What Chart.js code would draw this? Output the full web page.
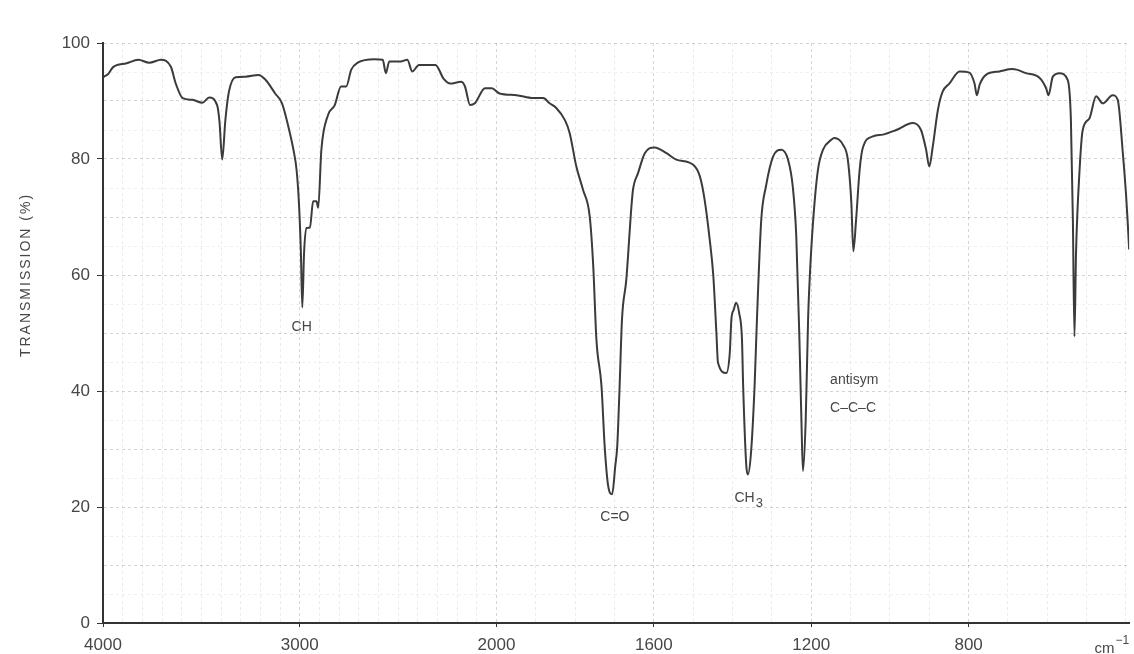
<!DOCTYPE html>
<html>
<head>
<meta charset="utf-8">
<title>IR spectrum</title>
<script src="https://cdn.jsdelivr.net/npm/chart.js@4.4.1/dist/chart.umd.min.js"></script>
<style>
    body { margin: 0; background: #fff; }
    canvas { display: block; }
</style>
</head>
<body>
<canvas id="irChart" width="1134" height="654"></canvas>
<script>
// values (wavenumber in cm-1, transmission in %)
const wavenumbers = [
    4000, 3995, 3975, 3950, 3880, 3820, 3765, 3705, 3655, 3630, 3595, 3545, 3495, 3460, 3420, 3408, 3394, 3378, 3360, 3326,
    3276, 3210, 3175, 3125, 3090, 3058, 3032, 3016, 3004, 2994, 2987, 2978, 2965, 2948, 2932, 2915, 2906, 2890, 2856, 2822,
    2790, 2764, 2738, 2705, 2620, 2578, 2562, 2545, 2487, 2453, 2428, 2394, 2310, 2268, 2235, 2180, 2160, 2134, 2110, 2058,
    2024, 1992, 1949, 1907, 1881, 1865, 1848, 1826, 1814, 1797, 1780, 1763, 1754, 1746, 1733, 1725, 1716, 1706, 1698, 1693,
    1687, 1681, 1670, 1657, 1653, 1640, 1623, 1598, 1568, 1543, 1500, 1483, 1471, 1458, 1449, 1441, 1437, 1416, 1407, 1403,
    1397, 1391, 1383, 1376, 1373, 1365, 1361, 1353, 1344, 1338, 1327, 1315, 1297, 1276, 1259, 1247, 1238, 1230, 1225, 1221,
    1214, 1208, 1204, 1195, 1183, 1170, 1149, 1141, 1119, 1107, 1098, 1093, 1086, 1077, 1069, 1043, 1018, 984, 942, 921,
    908, 900, 891, 878, 866, 849, 823, 798, 785, 779, 772, 756, 722, 688, 654, 620, 603, 597, 586, 569,
    548, 540, 535, 531, 527, 518, 510, 493, 476, 459, 434, 421, 408, 400, 396, 392
]
const transmission = [
    94.0, 94.2, 94.6, 95.8, 96.5, 97.1, 96.6, 97.1, 95.9, 93.0, 90.5, 90.2, 89.7, 90.6, 89.3, 86.5, 79.9, 86.7, 91.6, 94.1,
    94.2, 94.5, 93.7, 91.3, 89.6, 85.6, 81.6, 78.1, 72.4, 63.8, 54.4, 63.8, 68.1, 68.2, 72.7, 72.7, 71.6, 81.6, 87.6, 89.3,
    92.5, 92.5, 95.4, 96.6, 97.2, 97.1, 94.8, 96.8, 96.8, 97.1, 95.1, 96.2, 96.2, 93.8, 93.0, 93.3, 92.5, 89.3, 89.6, 92.2,
    92.2, 91.3, 91.0, 90.5, 90.5, 89.6, 88.8, 86.7, 84.5, 78.7, 74.7, 70.1, 61.5, 48.9, 40.8, 30.5, 23.6, 22.2, 27.1, 30.5,
    40.8, 52.3, 59.2, 71.8, 74.7, 77.6, 81.0, 82.0, 81.0, 79.9, 79.0, 77.0, 73.0, 66.1, 60.0, 50.0, 44.9, 43.1, 46.6, 52.3,
    54.0, 55.2, 53.4, 48.9, 40.8, 27.1, 25.6, 29.4, 40.8, 52.3, 69.5, 75.3, 80.4, 81.6, 79.9, 75.3, 66.7, 48.9, 35.1, 26.2,
    35.1, 52.3, 59.2, 69.5, 78.1, 81.6, 83.3, 83.6, 82.4, 79.9, 72.4, 64.1, 69.5, 78.1, 81.9, 83.9, 84.2, 85.0, 86.2, 85.0,
    81.6, 78.7, 82.2, 88.5, 91.6, 93.0, 95.1, 94.9, 93.0, 91.0, 92.8, 94.5, 95.1, 95.5, 94.8, 94.0, 92.2, 91.0, 94.2, 94.8,
    93.6, 86.7, 69.5, 49.4, 63.8, 78.1, 85.0, 87.0, 90.8, 89.6, 91.0, 90.2, 81.0, 74.0, 69.5, 64.4
]
const xTickLabels = [4000, 3000, 2000, 1600, 1200, 800]
const yTickLabels = [0, 20, 40, 60, 80, 100]
const xGridTicks = []
for (let w = 4000; w >= 400; w -= 100) xGridTicks.push(w)

// band labels, anchored in data units
const peakLabels = [
    { text: "CH", wn: 2990, t: 51.0, align: "center" },
    { text: "C=O", wn: 1699, t: 18.3, align: "center" },
    { text: "CH", sub: "3", wn: 1395, t: 21.6, align: "left" },
    { text: "antisym", wn: 1152, t: 41.9, align: "left" },
    { text: "C\u2013C\u2013C", wn: 1152, t: 37.1, align: "left" }
]

const FONT = '"Liberation Sans", Arial, sans-serif'
const INK = "#474747"

// spectrometer paper: 4000-2000 cm-1 is drawn at half the scale of 2000-400 cm-1
class WaveScale extends Chart.LinearScale {
    toPos(v) {
        return v >= 2000 ? (4000 - v) / 2 : 1000 + (2000 - v)
    }
    getPixelForValue(v) {
        return this.left + this.width * this.toPos(v) / this.toPos(this.min)
    }
    getValueForPixel(px) {
        const p = (px - this.left) / this.width * this.toPos(this.min)
        return p <= 1000 ? 4000 - 2 * p : 2000 - (p - 1000)
    }
}
WaveScale.id = "wavenumber"
WaveScale.defaults = Chart.LinearScale.defaults
Chart.register(WaveScale)

const spectrumText = {
    id: "spectrumText",
    afterDraw(chart) {
        const { ctx, scales: { x, y } } = chart
        ctx.save()
        ctx.fillStyle = INK
        ctx.textBaseline = "middle"
        peakLabels.forEach(l => {
            const px = x.getPixelForValue(l.wn)
            const py = y.getPixelForValue(l.t)
            ctx.font = "14px " + FONT
            ctx.textAlign = l.align
            ctx.fillText(l.text, px, py)
            if (l.sub) {
                const w = ctx.measureText(l.text).width
                ctx.font = "13px " + FONT
                ctx.textAlign = "left"
                ctx.fillText(l.sub, px + w + 1, py + 6)
            }
        })

        // unit at the end of the x axis
        ctx.textBaseline = "alphabetic"
        ctx.textAlign = "right"
        ctx.font = "12px " + FONT
        const supW = ctx.measureText("\u22121").width
        ctx.fillText("\u22121", x.right, 644)
        ctx.font = "15px " + FONT
        ctx.fillText("cm", x.right - supW - 1, 653)

        // y axis title, spaced out like the original
        ctx.translate(26, 275)
        ctx.rotate(-Math.PI / 2)
        ctx.textAlign = "center"
        ctx.textBaseline = "middle"
        ctx.font = "14px " + FONT
        ctx.letterSpacing = "2px"
        ctx.fillText("TRANSMISSION (%)", 0, 0)
        ctx.restore()
    }
}

new Chart(document.getElementById("irChart").getContext("2d"), {
    type: "line",
    data: {
        datasets: [{
            data: wavenumbers.map((w, i) => ({ x: w, y: transmission[i] })),
            borderColor: "#3b3b3b",
            borderWidth: 2,
            pointRadius: 0,
            fill: false,
            cubicInterpolationMode: "monotone"
        }]
    },
    options: {
        responsive: false,
        animation: false,
        layout: { padding: { top: 43, right: 1, bottom: 0, left: 0 } },
        plugins: { legend: { display: false }, tooltip: { enabled: false } },
        scales: {
            x: {
                type: "wavenumber",
                position: "bottom",
                min: 392,
                max: 4000,
                afterBuildTicks: scale => { scale.ticks = xGridTicks.map(v => ({ value: v })) },
                afterFit: scale => { scale.height = 31 },
                ticks: {
                    autoSkip: false,
                    maxRotation: 0,
                    minRotation: 0,
                    padding: 8,
                    color: INK,
                    font: { size: 17, family: FONT },
                    callback: v => xTickLabels.includes(v) ? String(v) : ""
                },
                grid: {
                    color: c => xTickLabels.includes(c.tick && c.tick.value) ? "rgba(0,0,0,0.16)" : "rgba(0,0,0,0.08)",
                    tickColor: c => xTickLabels.includes(c.tick && c.tick.value) ? "#333" : "rgba(0,0,0,0)",
                    tickLength: 4,
                    lineWidth: 1
                },
                border: { display: true, color: "#333", width: 2, dash: [3, 3] }
            },
            y: {
                min: 0,
                max: 100,
                afterFit: scale => { scale.width = 103 },
                ticks: {
                    stepSize: 5,
                    padding: 7,
                    color: INK,
                    font: { size: 17, family: FONT },
                    callback: v => yTickLabels.includes(v) ? String(v) : ""
                },
                grid: {
                    color: c => c.tick && c.tick.value % 10 === 0 ? "rgba(0,0,0,0.17)" : "rgba(0,0,0,0.06)",
                    tickColor: c => yTickLabels.includes(c.tick && c.tick.value) ? "#333" : "rgba(0,0,0,0)",
                    tickLength: 6,
                    lineWidth: 1
                },
                border: { display: true, color: "#333", width: 2, dash: [3, 3] }
            }
        }
    },
    plugins: [spectrumText]
})
</script>
</body>
</html>
